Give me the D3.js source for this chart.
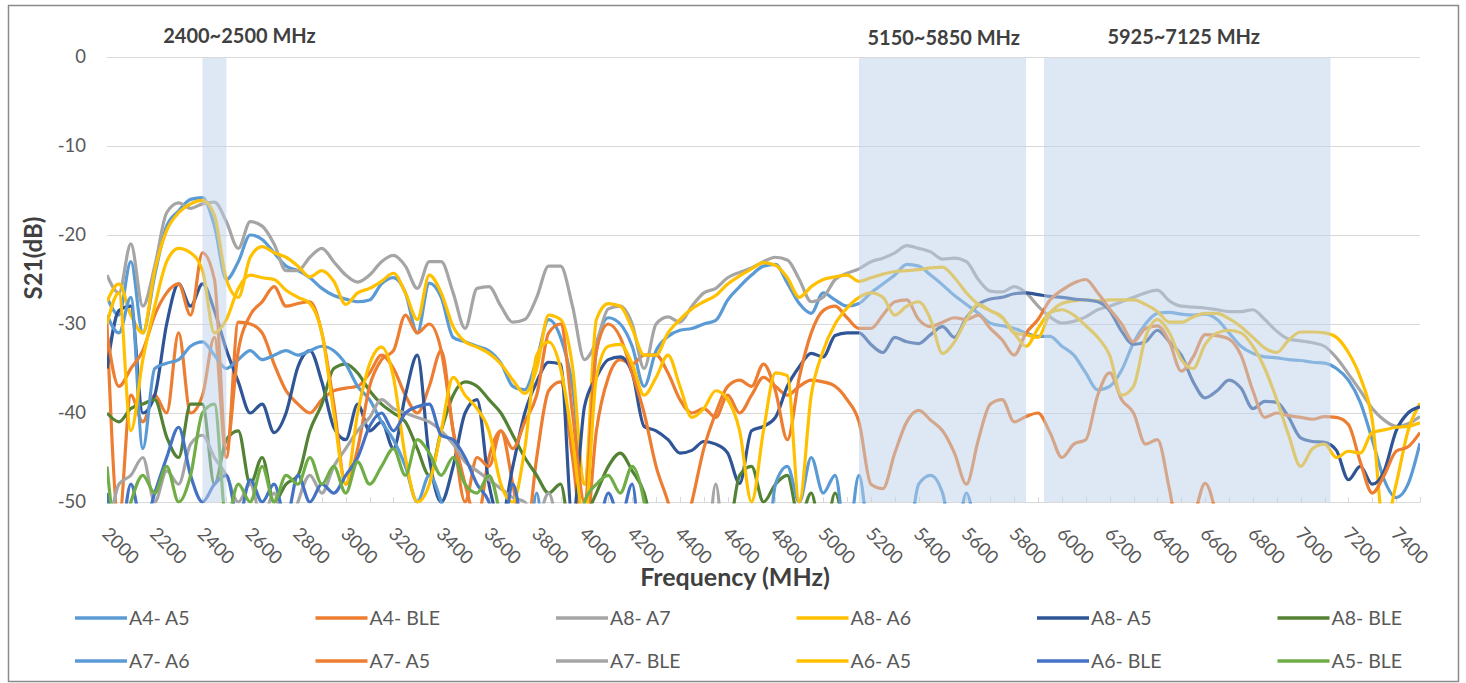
<!DOCTYPE html>
<meta charset="utf-8">
<script src="https://d3js.org/d3.v7.min.js"></script>
<style>
  body { margin: 0; background: #fff; }
  text { font-family: Lato, "Open Sans", sans-serif; }
</style>
<div id="chart"></div>
<script>
// frequency grid in MHz, one reading every 50 MHz (2000 ... 7500)
var freq = d3.range(2000, 7501, 50);

// S21 (dB) per pair; -60 = below the -50 floor
var a4a5 = [
  -27, -29, -23, -31, -24.5, -19, -17.3, -16, -15.8, -19,
  -25, -23, -20, -20.5, -22, -23.5, -24, -24.8, -26, -26.8,
  -27.2, -27.5, -27.3, -25.5, -24.8, -26.5, -31, -25.4, -27, -31.5,
  -32, -32.5, -33, -34.4, -37, -37.4, -34, -29.5, -31.5, -37,
  -48, -33, -29.3, -30, -32.5, -37, -33, -31.4, -30.7, -30.5,
  -30, -29.6, -27.3, -25.8, -24.5, -23.5, -23.3, -25.4, -27.7, -28.8,
  -26.5, -27.3, -28, -27.7, -26.5, -25.5, -24.5, -23.3, -23.5, -24.5,
  -25.6, -26.8, -27.8, -28.8, -29.9, -30.2, -30.5, -31, -31.4, -31.4,
  -32.5, -33.5, -35.5, -37.4, -37, -35.2, -32.1, -30, -28.8, -28.7,
  -28.9, -29, -28.9, -29.5, -31, -32.5, -33.3, -33.7, -33.8, -34,
  -34.1, -34.3, -34.4, -35, -36.3, -38.8, -43, -47.5, -49.5, -48,
  -43.4];

var a4ble = [
  -30, -52, -38, -41, -38, -40, -31, -40, -38, -31.5,
  -45, -29.8, -30, -31, -34.5, -37.5, -39, -40, -38.5, -37.5,
  -37.2, -37, -35.5, -33.5, -35, -38, -40, -37, -33, -42,
  -48, -52, -45, -42, -48, -55, -45, -37.5, -36.5, -45,
  -55, -42, -36, -34, -34.5, -33.5, -33.5, -35.5, -38.5, -40,
  -39.5, -40.5, -38, -40, -38, -36, -37, -38, -37, -36.3,
  -36.5, -37, -38.5, -41, -48, -48.5, -44.5, -41, -39.7, -40.8,
  -42, -44.5, -48, -43, -39, -38.5, -41, -40.4, -40, -42.2,
  -45, -43.5, -43, -38, -35.5, -38.5, -40, -43.5, -43, -48.5,
  -55, -52, -47.9, -52, -60, -60, -60, -60, -60, -60,
  -60, -60, -60, -60, -60, -60, -60, -60, -60, -60,
  -60];

var a8a7 = [
  -24.5, -26.5, -21, -28, -23.5, -17.5, -16.4, -17, -16.5, -16.3,
  -18.5, -21.5, -18.5, -19, -21, -24, -24, -22.5, -21.5, -23,
  -24.5, -25.3, -24.5, -23, -22.3, -23.5, -26, -23, -23, -26.5,
  -30.5, -26, -25.8, -28, -29.8, -29.5, -27, -23.5, -23.5, -28,
  -34, -32, -28.3, -28, -30, -35, -30, -29.2, -29.8, -28,
  -26.5, -26, -24.8, -24.2, -23.7, -23, -22.5, -22.8, -25, -27.5,
  -27, -25, -24.3, -23.8, -23, -22.6, -22, -21.2, -21.5, -21.9,
  -22.7, -22.6, -23, -25, -26.3, -26.4, -25.8, -26.5, -28, -29.2,
  -29.9, -29.7, -29.2, -28.4, -28, -27.5, -27, -26.5, -26.2, -27.4,
  -28, -28.1, -28.2, -28.4, -28.6, -28.6, -28.4, -29.5, -30.8, -31.7,
  -31.9, -32.1, -32.5, -33.8, -35.6, -37.5, -39.5, -40.8, -41.5, -41.2,
  -40.4];

var a8a6 = [
  -27.5, -25.5, -29, -31, -24, -19.5, -17.5, -16.5, -16.1, -17.8,
  -25, -27, -22.5, -21.3, -22, -22.5, -23.5, -24.7, -24, -25.2,
  -27.8, -26.5, -26, -25.2, -24.3, -26.5, -29.5, -24.5, -26.5, -30.3,
  -32, -32.6, -33.3, -34.5, -36.3, -37.8, -35, -29, -29.5, -34.8,
  -48, -29.5, -27.7, -28, -30.5, -33.5, -33.5, -31, -29.5, -28.3,
  -27.5, -26.8, -25.5, -24.6, -23.8, -23.1, -23.4, -24.8, -27, -25.8,
  -25, -24.7, -24.5, -25.2, -24.8, -24.4, -24.1, -24, -23.9, -23.7,
  -23.6, -24.8, -26.5, -27.8, -28.5, -29.2, -31, -31.2, -31.5, -28.8,
  -27.7, -27.4, -27.3, -27.4, -27.3, -27.3, -27.3, -27.8, -28.6, -29.8,
  -29.8, -29.2, -28.8, -28.8, -29.4, -30.3, -31.5, -32.7, -33.2, -31.8,
  -30.9, -30.9, -31, -31.5, -33.2, -36, -40.8, -53, -48, -42,
  -38.9];

var a8a5 = [
  -35, -28.5, -28, -40, -38, -30, -25.5, -28, -25.5, -28.5,
  -32.9, -36.5, -40, -39, -42.2, -40, -34.8, -33, -36.5, -41.6,
  -43, -39, -42, -41, -44, -38, -33.5, -45, -50, -46,
  -40, -38.5, -48, -52, -46, -40, -36.5, -34.3, -34.5, -52,
  -39.3, -36, -34, -33.7, -35.5, -41.5, -42, -43, -44.5, -44.2,
  -43.2, -43.5, -44.5, -47.9, -42, -41.5, -40.5, -37, -34.8, -33.3,
  -33.7, -31.3, -31, -31, -32.3, -33.2, -31.5, -32, -32.2, -31.2,
  -30.3, -31.5, -29.3, -27.8, -27.2, -27, -26.6, -26.5, -26.7, -26.9,
  -27, -27.2, -27.3, -27.5, -28.5, -30.8, -32.3, -32, -30.7, -32,
  -33.5, -36.5, -38.3, -37.5, -36.3, -37.2, -39.5, -38.7, -38.8, -40.5,
  -42.8, -43.2, -43.3, -44.2, -47.5, -46, -48, -46.5, -42, -40,
  -39.3];

var a8ble = [
  -40, -41, -39.5, -39, -38.5, -42.7, -45, -39, -39, -48,
  -43, -42, -48, -45, -50, -48, -47, -42, -39, -35,
  -34.5, -35.5, -37.5, -39, -40, -41, -44, -47, -42, -38,
  -36.5, -37, -38.5, -40, -42.5, -45, -47, -49, -48, -55,
  -52, -49, -46, -44.5, -46.5, -49, -55, -60, -60, -60,
  -60, -60, -55, -47, -46, -50, -48, -47, -52, -49,
  -55, -49, -55, -60, -60, -60, -60, -60, -60, -60,
  -60, -60, -60, -60, -60, -60, -60, -60, -60, -60,
  -60, -60, -60, -60, -60, -60, -60, -60, -60, -60,
  -60, -60, -60, -60, -60, -60, -60, -60, -60, -60,
  -60, -60, -60, -60, -60, -60, -60, -60, -60, -60,
  -60];

var a7a6 = [
  -29, -31, -27, -44, -35, -34.4, -34, -32.5, -32, -33.5,
  -35, -34, -33, -34, -33.5, -33, -33.5, -33, -32.5, -33,
  -34.5, -37, -38.5, -41, -43, -46, -50, -47, -50, -55,
  -60, -52, -60, -60, -60, -60, -49, -60, -60, -60,
  -60, -60, -60, -60, -60, -60, -60, -60, -60, -60,
  -60, -60, -60, -60, -60, -60, -48, -46, -50, -45,
  -49, -47, -55, -47, -55, -52, -55, -55, -48, -47,
  -49, -55, -49, -55, -60, -60, -60, -60, -60, -60,
  -60, -60, -60, -60, -60, -60, -60, -60, -60, -60,
  -60, -60, -60, -60, -60, -60, -60, -60, -60, -60,
  -60, -60, -60, -60, -60, -60, -60, -60, -60, -60,
  -60];

var a7a5 = [
  -31, -37, -35, -33, -29, -26.5, -25.5, -29, -22, -25,
  -44, -33, -29, -27.5, -25.8, -28, -27.7, -27.5, -31, -39,
  -48, -44, -37, -34, -33, -29, -31, -30, -33, -42,
  -50, -45, -46, -42, -44, -41, -38, -31, -30, -40,
  -50, -33, -30, -31.5, -35.5, -40, -46, -50, -55, -50,
  -44, -40, -37, -36.3, -37, -34.5, -37.5, -43, -36, -31,
  -28.5, -28, -29.3, -30.5, -30.5, -29, -27.5, -27.3, -29.5, -30.3,
  -29.8, -29.3, -29.5, -29, -30.5, -31.8, -33.5, -31, -29.5, -27.3,
  -26.2, -25.4, -25, -26.5, -28.3, -30, -32, -30.5, -30.2, -32,
  -35.3, -33.7, -31.2, -31.3, -31.7, -33.5, -37.5, -40.5, -40, -40.3,
  -40.5, -40.7, -40.4, -40.5, -41.3, -45.5, -49, -47, -44.3, -43.8,
  -42.2];

var a7ble = [
  -55, -48, -47, -45, -50, -46.5, -48, -43.5, -42.5, -45,
  -47, -50, -48, -52, -49, -55, -50, -47, -49, -46,
  -44, -42, -40.5, -38.5, -39.5, -40, -40.5, -41, -42, -43.5,
  -45.5, -46.5, -47.5, -48.5, -49.5, -50, -52, -49, -55, -60,
  -60, -60, -60, -60, -60, -60, -60, -60, -60, -60,
  -60, -48, -60, -60, -60, -60, -60, -60, -60, -60,
  -60, -60, -60, -60, -60, -60, -60, -60, -60, -60,
  -60, -60, -60, -60, -60, -60, -60, -60, -60, -60,
  -60, -60, -60, -60, -60, -60, -60, -60, -60, -60,
  -60, -60, -60, -60, -60, -60, -60, -60, -60, -60,
  -60, -60, -60, -60, -60, -60, -60, -60, -60, -60,
  -60];

var a6a5 = [
  -30, -26.5, -42, -34, -28, -23, -21.5, -22, -24, -31,
  -29.5, -26, -24.5, -24.8, -25, -26.2, -27, -27.7, -31, -40,
  -48, -40, -34.5, -32.6, -36, -45, -50, -48, -42, -36,
  -38, -39.5, -42, -48, -50, -44, -33.5, -32, -35, -43,
  -52, -36, -32.5, -32.3, -34.5, -38, -36, -33.5, -37, -40.5,
  -39.5, -37.5, -38.5, -42, -50, -42, -35.5, -35.8, -50, -38,
  -33, -30, -28.2, -27, -26.5, -27, -29, -28, -27.5, -29.5,
  -33.3, -32, -29.5, -27.8, -28.5, -29.3, -31, -32.5, -30.5, -28.7,
  -28.4, -29, -30.2, -31.5, -33.5, -38, -37, -31.5, -29.5, -31,
  -34, -35, -32.3, -31, -30.7, -31, -32.5, -35, -38.5, -42.5,
  -46, -44, -43.5, -45, -44.3, -44.5, -42.2, -41.9, -41.6, -41.5,
  -41.1];

var a6ble = [
  -49, -55, -48, -53, -49, -45, -41.6, -47, -50, -48,
  -47, -52, -47.5, -50, -48, -52, -47, -50, -48, -49,
  -47, -45, -41.5, -40, -42, -40, -39.3, -39, -42.5, -43,
  -45, -48, -50, -55, -48, -55, -60, -52, -60, -60,
  -60, -55, -49, -52, -48, -60, -60, -60, -60, -60,
  -60, -60, -60, -60, -60, -60, -60, -60, -60, -60,
  -60, -60, -60, -60, -60, -60, -60, -60, -60, -60,
  -60, -60, -60, -60, -60, -60, -60, -60, -60, -60,
  -60, -60, -60, -60, -60, -60, -60, -60, -60, -60,
  -60, -60, -60, -60, -60, -60, -60, -60, -60, -60,
  -60, -60, -60, -60, -60, -60, -60, -60, -60, -60,
  -60];

var a5ble = [
  -46, -55, -50, -47, -49, -46, -50, -47, -40, -39,
  -52, -48, -50, -46, -50, -47, -48, -45, -48, -46,
  -49, -45.5, -48, -46, -44, -47, -43, -44.5, -47, -45,
  -48, -49, -47, -52, -60, -60, -60, -60, -60, -60,
  -50, -48, -47, -49, -46, -50, -60, -60, -60, -60,
  -60, -60, -60, -60, -60, -60, -60, -60, -60, -60,
  -60, -60, -60, -60, -60, -60, -60, -60, -60, -60,
  -60, -60, -60, -60, -60, -60, -60, -60, -60, -60,
  -60, -60, -60, -60, -60, -60, -60, -60, -60, -60,
  -60, -60, -60, -60, -60, -60, -60, -60, -60, -60,
  -60, -60, -60, -60, -60, -60, -60, -60, -60, -60,
  -60];

var seriesNames = ["A4- A5", "A4- BLE", "A8- A7", "A8- A6", "A8- A5", "A8- BLE",
                   "A7- A6", "A7- A5", "A7- BLE", "A6- A5", "A6- BLE", "A5- BLE"];
var seriesValues = [a4a5, a4ble, a8a7, a8a6, a8a5, a8ble, a7a6, a7a5, a7ble, a6a5, a6ble, a5ble];
var seriesColors = ["#5B9BD5", "#ED7D31", "#A5A5A5", "#FFC000", "#2F5597", "#548235",
                    "#5B9BD5", "#ED7D31", "#A5A5A5", "#FFC000", "#4472C4", "#70AD47"];

// Wi-Fi bands shaded on the plot
var bandStart = [2400, 5150, 5925];
var bandEnd = [2500, 5850, 7125];
var bandLabels = ["2400~2500 MHz", "5150~5850 MHz", "5925~7125 MHz"];
var bandLabelAt = [2555, 5505, 6510];
var bandLabelY = [43, 45, 44];

var xLabels = d3.range(2000, 7401, 200);
var xMinorTicks = d3.range(2000, 7501, 100);
var yTicks = [0, -10, -20, -30, -40, -50];

seriesValues.forEach(function(s, i) {
  if (s.length != freq.length) console.log("length mismatch", seriesNames[i], s.length);
});

var W = 1466, H = 683;
var plot = {left: 107, right: 1420, top: 57, bottom: 502};

var svg = d3.select("#chart")
  .append("svg")
    .attr("width", W)
    .attr("height", H);

// chart border
svg.append("rect")
  .attr("x", 8.5).attr("y", 5.5)
  .attr("width", 1450).attr("height", 676)
  .attr("fill", "#fff")
  .attr("stroke", "#8a8a8a")
  .attr("stroke-width", 1.5);

var x = d3.scaleLinear()
  .domain([2000, 7500])
  .range([plot.left, plot.right]);

var y = d3.scaleLinear()
  .domain([-50, 0])
  .range([plot.bottom, plot.top]);

// gridlines
svg.append("g")
  .selectAll("line")
  .data(yTicks)
  .enter().append("line")
    .attr("x1", plot.left).attr("x2", plot.right)
    .attr("y1", function(d) { return y(d) + 0.5; })
    .attr("y2", function(d) { return y(d) + 0.5; })
    .attr("stroke", "#d9d9d9")
    .attr("stroke-width", 1);

// small tick marks on the frequency axis
svg.append("g")
  .selectAll("line")
  .data(xMinorTicks)
  .enter().append("line")
    .attr("x1", function(d) { return Math.round(x(d)) + 0.5; })
    .attr("x2", function(d) { return Math.round(x(d)) + 0.5; })
    .attr("y1", plot.bottom - 5)
    .attr("y2", plot.bottom + 0.5)
    .attr("stroke", "#d9d9d9");

// y tick labels
svg.append("g")
  .selectAll("text")
  .data(yTicks)
  .enter().append("text")
    .attr("x", 86)
    .attr("y", function(d) { return y(d); })
    .attr("dy", "0.35em")
    .attr("text-anchor", "end")
    .attr("fill", "#595959")
    .style("font-size", "18.5px")
    .text(function(d) { return d; });

// x tick labels, slanted
svg.append("g")
  .selectAll("text")
  .data(xLabels)
  .enter().append("text")
    .attr("transform", function(d) { return "translate(" + (x(d) - 6) + ",535) rotate(45)"; })
    .attr("text-anchor", "start")
    .attr("fill", "#595959")
    .style("font-size", "18.5px")
    .text(function(d) { return d; });

// series lines, clipped to the plot area
svg.append("clipPath")
  .attr("id", "plotclip")
  .append("rect")
    .attr("x", plot.left).attr("y", plot.top - 10)
    .attr("width", plot.right - plot.left)
    .attr("height", plot.bottom - plot.top + 11.5);

var line = d3.line()
  .x(function(d, i) { return x(freq[i]); })
  .y(function(d) { return y(d); })
  .curve(d3.curveMonotoneX);

svg.append("g")
  .attr("clip-path", "url(#plotclip)")
  .selectAll("path")
  .data(seriesValues)
  .enter().append("path")
    .attr("fill", "none")
    .attr("stroke", function(d, i) { return seriesColors[i]; })
    .attr("stroke-width", 3.2)
    .attr("stroke-linejoin", "round")
    .attr("d", line);

// band shading sits on top of the lines
svg.append("g")
  .selectAll("rect")
  .data(bandStart)
  .enter().append("rect")
    .attr("x", function(d) { return x(d); })
    .attr("y", plot.top + 1)
    .attr("width", function(d, i) { return x(bandEnd[i]) - x(d); })
    .attr("height", plot.bottom - plot.top - 1)
    .attr("fill", "#bbd1e9")
    .attr("fill-opacity", 0.5);

svg.append("g")
  .selectAll("text")
  .data(bandLabels)
  .enter().append("text")
    .attr("x", function(d, i) { return x(bandLabelAt[i]); })
    .attr("y", function(d, i) { return bandLabelY[i]; })
    .attr("text-anchor", "middle")
    .attr("fill", "#404040")
    .style("font-size", "20px")
    .style("font-weight", "bold")
    .text(function(d) { return d; });

// axis titles
svg.append("text")
  .attr("x", 735).attr("y", 586)
  .attr("text-anchor", "middle")
  .attr("fill", "#404040")
  .style("font-size", "25px")
  .style("font-weight", "bold")
  .text("Frequency (MHz)");

svg.append("text")
  .attr("transform", "translate(42,258) rotate(-90)")
  .attr("text-anchor", "middle")
  .attr("fill", "#404040")
  .style("font-size", "24px")
  .style("font-weight", "bold")
  .text("S21(dB)");

// legend, two rows of six
var legend = svg.append("g")
  .selectAll("g")
  .data(seriesNames)
  .enter().append("g")
    .attr("transform", function(d, i) {
      return "translate(" + (75 + (i % 6) * 240.5) + "," + (618 + Math.floor(i / 6) * 43) + ")";
    });

legend.append("line")
  .attr("x1", 0).attr("x2", 52)
  .attr("stroke", function(d, i) { return seriesColors[i]; })
  .attr("stroke-width", 3.5);

legend.append("text")
  .attr("x", 54)
  .attr("dy", "0.35em")
  .attr("fill", "#595959")
  .style("font-size", "19.5px")
  .text(function(d) { return d; });
</script>
